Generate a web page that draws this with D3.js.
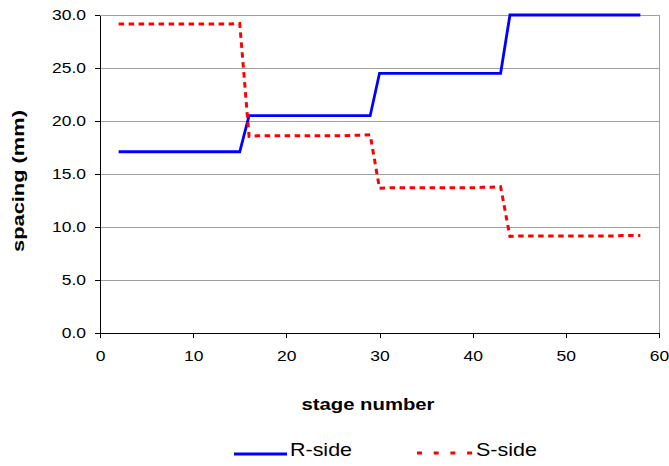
<!DOCTYPE html>
<html>
<head>
<meta charset="utf-8">
<script src="https://cdn.jsdelivr.net/npm/d3@7"></script>
<style>
  html, body { margin: 0; padding: 0; background: #fff; }
  svg { display: block; font-family: "Liberation Sans", Arial, sans-serif; }
</style>
</head>
<body>
<svg id="chart" width="669" height="466"></svg>
<script>
// ---- data ----
const stages = d3.range(2, 59); // stage numbers 2..58
const rSide = [
  17.1,17.1,17.1,17.1,17.1,17.1,17.1,17.1,17.1,17.1,17.1,17.1,17.1,17.1,          // 2-15
  20.5,20.5,20.5,20.5,20.5,20.5,20.5,20.5,20.5,20.5,20.5,20.5,20.5,20.5,          // 16-29
  24.5,24.5,24.5,24.5,24.5,24.5,24.5,24.5,24.5,24.5,24.5,24.5,24.5,24.5,          // 30-43
  30.0,30.0,30.0,30.0,30.0,30.0,30.0,30.0,30.0,30.0,30.0,30.0,30.0,30.0,30.0      // 44-58
];
const sSide = [
  29.15,29.15,29.15,29.15,29.15,29.15,29.15,29.15,29.15,29.15,29.15,29.15,29.15,29.2, // 2-15
  18.55,18.6,18.6,18.6,18.6,18.6,18.6,18.6,18.6,18.6,18.6,18.65,18.65,18.7,            // 16-29
  13.65,13.7,13.7,13.7,13.7,13.7,13.7,13.7,13.7,13.7,13.7,13.75,13.75,13.8,            // 30-43
  9.1,9.15,9.15,9.15,9.15,9.15,9.15,9.15,9.15,9.15,9.15,9.15,9.2,9.2,9.2               // 44-58
];
const seriesNames = ["R-side", "S-side"];
const xTicks = [0, 10, 20, 30, 40, 50, 60];
const yTicks = [0, 5, 10, 15, 20, 25, 30];
const xTitle = "stage number";
const yTitle = "spacing (mm)";

// ---- layout ----
const svg = d3.select("#chart");
const pL = 100, pR = 659, pT = 15, pB = 333;
const x = d3.scaleLinear().domain([0, 60]).range([pL, pR]);
const y = d3.scaleLinear().domain([0, 30]).range([pB, pT]);

function stretch(sel, k) {
  sel.each(function() {
    const len = this.getComputedTextLength();
    d3.select(this).attr("textLength", len * k).attr("lengthAdjust", "spacingAndGlyphs");
  });
}

// gridlines
svg.append("g")
  .selectAll("line").data(yTicks.filter(d => d > 0)).join("line")
  .attr("x1", pL).attr("x2", pR)
  .attr("y1", d => y(d)).attr("y2", d => y(d))
  .attr("stroke", "#a0a0a0").attr("stroke-width", 1).attr("shape-rendering", "crispEdges");

// right border
svg.append("line")
  .attr("x1", pR).attr("x2", pR).attr("y1", pT).attr("y2", pB)
  .attr("stroke", "#a0a0a0").attr("stroke-width", 1).attr("shape-rendering", "crispEdges");

// axes
const yAxis = svg.append("g").attr("transform", `translate(${pL},0)`)
  .call(d3.axisLeft(y).tickValues(yTicks).tickFormat(d3.format(".1f")).tickSize(5).tickPadding(9).tickSizeOuter(0));
const xAxis = svg.append("g").attr("transform", `translate(0,${pB})`)
  .call(d3.axisBottom(x).tickValues(xTicks).tickFormat(d3.format("d")).tickSize(5).tickPadding(12).tickSizeOuter(0));
[yAxis, xAxis].forEach(a => {
  a.selectAll("path.domain").attr("stroke", "#000").attr("stroke-width", 1).attr("shape-rendering", "crispEdges");
  a.selectAll(".tick line").attr("stroke", "#000").attr("shape-rendering", "crispEdges");
  a.selectAll("text").attr("font-size", 15).attr("fill", "#000")
    .attr("font-family", "Liberation Sans, Arial, sans-serif");
  stretch(a.selectAll("text"), 1.165);
});

// lines
const rData = stages.map((s, i) => [s, rSide[i]]);
const sData = stages.map((s, i) => [s, sSide[i]]);
const line = d3.line().x(d => x(d[0])).y(d => y(d[1]));
svg.append("path").datum(rData).attr("d", line)
  .attr("fill", "none").attr("stroke", "#0000ff").attr("stroke-width", 2.8).attr("stroke-linejoin", "miter");
svg.append("path").datum(sData).attr("d", line)
  .attr("fill", "none").attr("stroke", "#ff0000").attr("stroke-width", 3).attr("stroke-dasharray", "5.5,4.5");

// axis titles
svg.append("text").text(xTitle)
  .attr("x", 368).attr("y", 410).attr("text-anchor", "middle")
  .attr("font-size", 17).attr("font-weight", "bold").attr("fill", "#000")
  .attr("textLength", 133).attr("lengthAdjust", "spacingAndGlyphs");
svg.append("text").text(yTitle)
  .attr("transform", "translate(23.5,181) rotate(-90)").attr("text-anchor", "middle")
  .attr("font-size", 17).attr("font-weight", "bold").attr("fill", "#000")
  .attr("textLength", 142).attr("lengthAdjust", "spacingAndGlyphs");

// legend
const leg = svg.append("g");
leg.append("line").attr("x1", 234).attr("x2", 287).attr("y1", 454).attr("y2", 454)
  .attr("stroke", "#0000ff").attr("stroke-width", 2.8);
leg.append("text").text(seriesNames[0]).attr("x", 290).attr("y", 456)
  .attr("font-size", 18.5).attr("fill", "#000")
  .attr("textLength", 62).attr("lengthAdjust", "spacingAndGlyphs");
leg.append("line").attr("x1", 417).attr("x2", 473).attr("y1", 453).attr("y2", 453)
  .attr("stroke", "#ff0000").attr("stroke-width", 3).attr("stroke-dasharray", "5,11.7");
leg.append("text").text(seriesNames[1]).attr("x", 476).attr("y", 456)
  .attr("font-size", 18.5).attr("fill", "#000")
  .attr("textLength", 61).attr("lengthAdjust", "spacingAndGlyphs");
</script>
</body>
</html>
